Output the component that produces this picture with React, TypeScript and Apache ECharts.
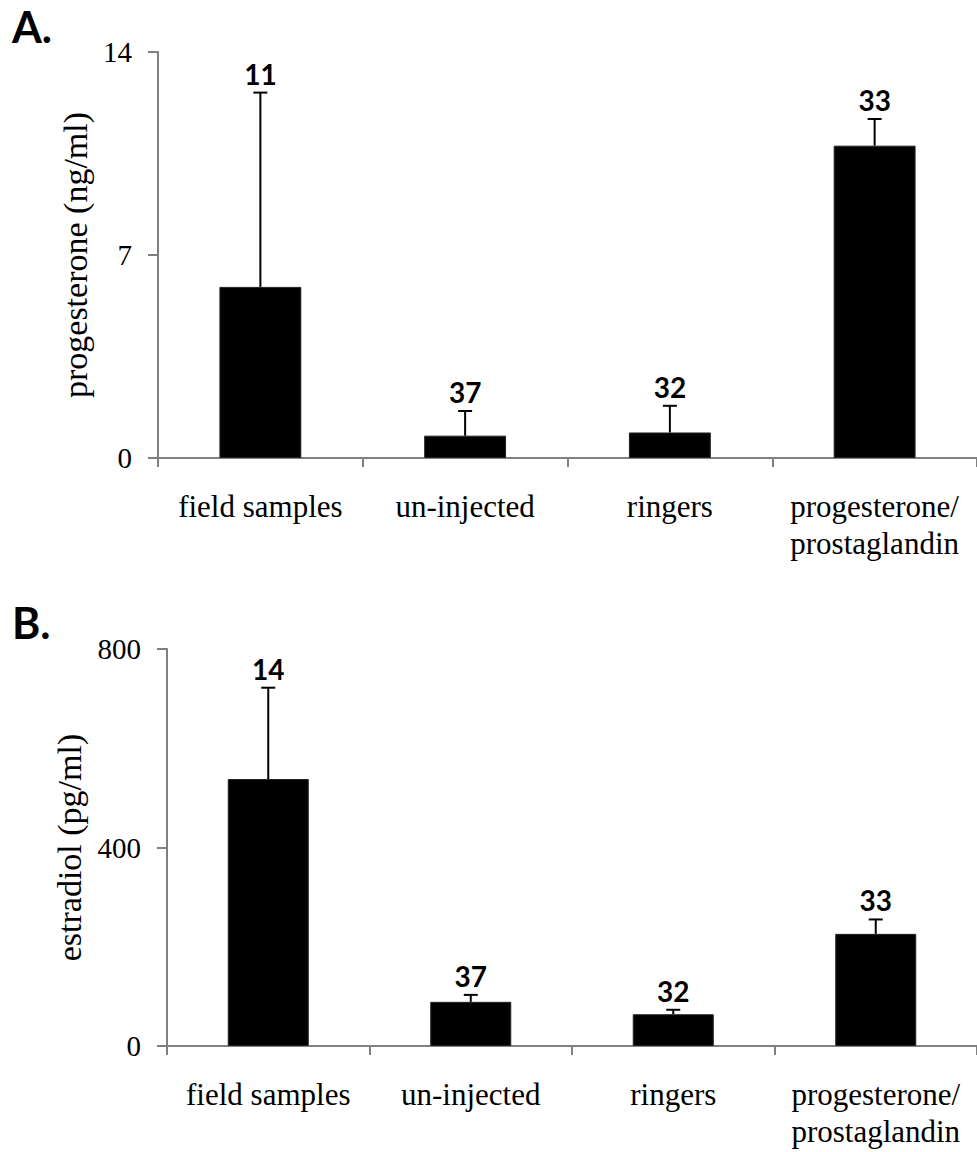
import React, { useEffect, useRef } from "react";
import * as echarts from "echarts";

const categories = ["field samples", "un-injected", "ringers", "progesterone/\nprostaglandin"];
const progesteroneMean = [5.9, 0.77, 0.88, 10.77];
const progesteroneUpper = [12.6, 1.62, 1.8, 11.69];
const progesteroneN = [11, 37, 32, 33];
const estradiolMean = [538, 89, 64, 226];
const estradiolUpper = [722, 103, 73, 255];
const estradiolN = [14, 37, 32, 33];
const progesteroneTicks = { min: 0, max: 14, interval: 7 };
const estradiolTicks = { min: 0, max: 800, interval: 400 };

const SERIF = "'Liberation Serif', 'Times New Roman', serif";
const SANS = "Lato, 'Liberation Sans', sans-serif";
const AXIS_COLOR = "#808080";

function errorSeries(axisIndex: number, mean: number[], upper: number[], n: number[]) {
  const data = mean.map((m, i) => [i, m, upper[i], n[i]]);
  return {
    type: "custom",
    xAxisIndex: axisIndex,
    yAxisIndex: axisIndex,
    data,
    encode: { x: 0, y: [1, 2] },
    z: 5,
    renderItem: (params: any, api: any) => {
      const idx = api.value(0);
      const base = api.coord([idx, api.value(1)]);
      const top = api.coord([idx, api.value(2)]);
      const capHalf = 7;
      return {
        type: "group",
        children: [
          {
            type: "line",
            shape: { x1: top[0], y1: base[1], x2: top[0], y2: top[1] },
            style: { stroke: "#000", lineWidth: 2 },
          },
          {
            type: "line",
            shape: { x1: top[0] - capHalf, y1: top[1], x2: top[0] + capHalf, y2: top[1] },
            style: { stroke: "#000", lineWidth: 2 },
          },
          {
            type: "text",
            x: top[0],
            y: top[1] - 5,
            style: {
              text: String(api.value(3)),
              fill: "#000",
              font: `bold 28px ${SANS}`,
              textAlign: "center",
              textVerticalAlign: "bottom",
            },
          },
        ],
      };
    },
  };
}

export default function App() {
  const ref = useRef<HTMLDivElement>(null);
  useEffect(() => {
    if (!ref.current) return;
    const chart = echarts.init(ref.current, undefined, { renderer: "svg" });
    const xAxisCommon = {
      type: "category",
      data: categories,
      axisLine: { lineStyle: { color: AXIS_COLOR, width: 2 } },
      axisTick: { show: true, length: 9, lineStyle: { color: AXIS_COLOR, width: 2 } },
      axisLabel: {
        interval: 0,
        margin: 30,
        formatter: (v: string) =>
          v
            .split("\n")
            .map((line) => `{c|${line}}`)
            .join("\n"),
        rich: {
          c: {
            color: "#000",
            fontFamily: SERIF,
            fontSize: 31,
            lineHeight: 37,
          },
        },
      },
      splitLine: { show: false },
    };
    const yAxisCommon = {
      type: "value",
      axisLine: { show: true, lineStyle: { color: AXIS_COLOR, width: 2 } },
      axisTick: { show: true, length: 10, lineStyle: { color: AXIS_COLOR, width: 2 } },
      axisLabel: { color: "#000", fontFamily: SERIF, fontSize: 29, margin: 26 },
      splitLine: { show: false },
      nameLocation: "middle",
      nameRotate: 90,
      nameTextStyle: { color: "#000", fontFamily: SERIF, fontSize: 34 },
    };
    chart.setOption({
      animation: false,
      backgroundColor: "#fff",
      textStyle: { fontFamily: SERIF },
      grid: [
        { left: 158, top: 52, width: 819, height: 406 },
        { left: 167, top: 649, width: 810, height: 397 },
      ],
      xAxis: [
        { ...xAxisCommon, gridIndex: 0 },
        { ...xAxisCommon, gridIndex: 1 },
      ],
      yAxis: [
        { ...yAxisCommon, gridIndex: 0, ...progesteroneTicks, name: "progesterone (ng/ml)", nameGap: 58 },
        { ...yAxisCommon, gridIndex: 1, ...estradiolTicks, name: "estradiol (pg/ml)", nameGap: 79 },
      ],
      graphic: [
        { type: "text", left: 12, top: 5, style: { text: "A.", font: `bold 43px ${SANS}`, fill: "#000" } },
        { type: "text", left: 12, top: 601, style: { text: "B.", font: `bold 43px ${SANS}`, fill: "#000" } },
      ],
      series: [
        {
          type: "bar",
          xAxisIndex: 0,
          yAxisIndex: 0,
          data: progesteroneMean,
          barWidth: "40%",
          itemStyle: { color: "#000", borderColor: "#222", borderWidth: 1 },
        },
        {
          type: "bar",
          xAxisIndex: 1,
          yAxisIndex: 1,
          data: estradiolMean,
          barWidth: "40%",
          itemStyle: { color: "#000", borderColor: "#222", borderWidth: 1 },
        },
        errorSeries(0, progesteroneMean, progesteroneUpper, progesteroneN),
        errorSeries(1, estradiolMean, estradiolUpper, estradiolN),
      ],
    });
    return () => chart.dispose();
  }, []);
  return (
    <div
      ref={ref}
      style={{ position: "absolute", left: 0, top: 0, width: 977, height: 1152 }}
    />
  );
}
